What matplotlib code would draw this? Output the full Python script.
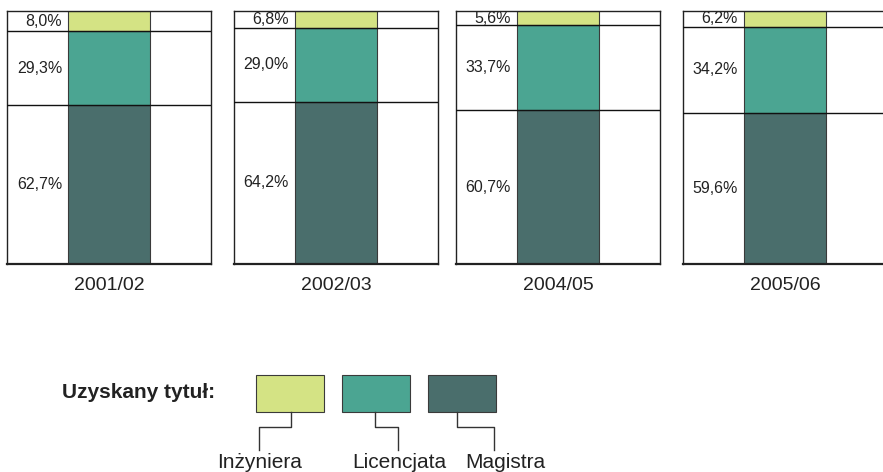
import matplotlib
matplotlib.use("Agg")
import matplotlib.pyplot as plt

plt.rcParams['font.family'] = ['Liberation Sans', 'DejaVu Sans']

years = ["2001/02", "2002/03", "2004/05", "2005/06"]
inzyniera = [8.0, 6.8, 5.6, 6.2]
licencjata = [29.3, 29.0, 33.7, 34.2]
magistra = [62.7, 64.2, 60.7, 59.6]
series_names = ["Inżyniera", "Licencjata", "Magistra"]
colors = ["#d4e384", "#4ba592", "#4a6e6c"]
legend_title = "Uzyskany tytuł:"

W, H = 883, 472
fig = plt.figure(figsize=(W / 100, H / 100), dpi=100)

def fax(x0, y0, w, h):
    return fig.add_axes([x0 / W, 1 - (y0 + h) / H, w / W, h / H])

panel_left = [7, 234, 456, 683]
panel_w = 204
top, bottom = 11, 264
bar_left, bar_w = 61, 82
txt = "#222222"

def fmt(v):
    return f"{v:.1f}%".replace(".", ",")

for i, x0 in enumerate(panel_left):
    ax = fax(x0, top, panel_w, bottom - top)
    ax.set_xlim(0, panel_w)
    ax.set_ylim(0, 100)
    vals = [magistra[i], licencjata[i], inzyniera[i]]
    cols = [colors[2], colors[1], colors[0]]
    b = 0
    for v, c in zip(vals, cols):
        ax.bar(bar_left, v, width=bar_w, bottom=b, align='edge', color=c,
               edgecolor="#3a3a3a", linewidth=0.8, zorder=2)
        ax.text(bar_left - 6, b + v / 2, fmt(v), ha='right', va='center',
                fontsize=11.5, color=txt)
        b += v
        if b < 99.9:
            ax.axhline(b, color="#111111", linewidth=1.0, zorder=3)
    for s in ax.spines.values():
        s.set_linewidth(1.0)
        s.set_color("#222222")
    ax.spines['bottom'].set_linewidth(1.6)
    ax.set_xticks([])
    ax.set_yticks([])
    fig.text((x0 + panel_w / 2) / W, 1 - 285 / H, years[i], ha='center',
             va='center', fontsize=14, color=txt)

# legend overlay
lax = fig.add_axes([0, 0, 1, 1])
lax.set_xlim(0, W)
lax.set_ylim(H, 0)
lax.axis('off')
lax.text(62, 392, legend_title, ha='left', va='center', fontsize=15,
         fontweight='bold', color=txt)
box_x = [256, 342, 428]
box_w, box_y0, box_y1 = 68, 375, 412
conn_x = [(291, 259), (375, 398), (457, 494)]
label_x = [260, 399, 505]
for bx, c, (cx0, cx1), lx, name in zip(box_x, colors, conn_x, label_x, series_names):
    lax.add_patch(plt.Rectangle((bx, box_y0), box_w, box_y1 - box_y0,
                                facecolor=c, edgecolor="#3a3a3a", linewidth=0.8))
    lax.plot([cx0, cx0, cx1, cx1], [box_y1, 427, 427, 450], color="#333333",
             linewidth=1.0)
    lax.text(lx, 463, name, ha='center', va='center', fontsize=15, color=txt)

fig.savefig("out.png", dpi=100)
